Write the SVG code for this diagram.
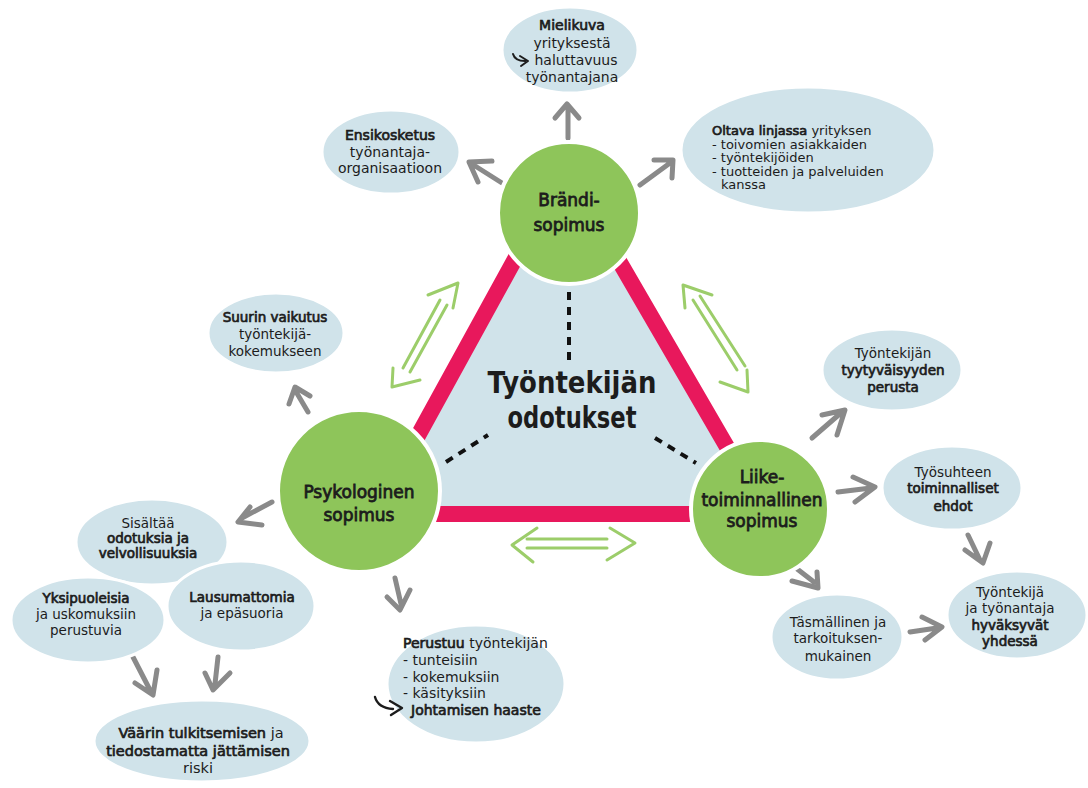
<svg xmlns="http://www.w3.org/2000/svg" width="1088" height="788" viewBox="0 0 1088 788">
<style>
.t{font-family:"DejaVu Sans",Verdana,sans-serif;fill:#1c1c1c;font-size:13.5px}
.m{text-anchor:middle}
.b{stroke:#1c1c1c;stroke-width:0.7px}
.ell{fill:#d0e3ea;stroke:#ffffff;stroke-width:3}
.circ{fill:#8ec55a;stroke:#ffffff;stroke-width:4}
.cl{font-family:"DejaVu Sans",Verdana,sans-serif;fill:#1c1c1c;font-size:17px;text-anchor:middle;stroke:#1c1c1c;stroke-width:0.8px}
.ga{fill:none;stroke:#8a8a8a;stroke-width:5;stroke-linecap:round;stroke-linejoin:round}
.gr{fill:none;stroke:#9ccd6a;stroke-width:3;stroke-linecap:round;stroke-linejoin:round}
.dash{fill:none;stroke:#111;stroke-width:4;stroke-dasharray:8 7}
.sym{fill:none;stroke:#1c1c1c;stroke-width:2;stroke-linecap:round;stroke-linejoin:round}
.title{font-family:"DejaVu Sans",Verdana,sans-serif;fill:#1c1c1c;font-size:31px;font-weight:bold;text-anchor:middle}
</style>

<g id="triangle">
<polygon points="565,168 375,514 766,514" fill="#d0e3ea" stroke="#e8185c" stroke-width="16" stroke-linejoin="miter"/>
<path class="dash" d="M569,292 L569,362"/>
<path class="dash" d="M446,462 L488,435"/>
<path class="dash" d="M655,438 L696,463"/>
<text class="title" x="572" y="393" textLength="169" lengthAdjust="spacingAndGlyphs">Työntekijän</text>
<text class="title" x="572" y="428" textLength="129" lengthAdjust="spacingAndGlyphs">odotukset</text>
</g>

<g id="connectors">
<path class="ga" d="M568,138 L568,106 M555,118 L567,104 L579,118"/>
<path class="ga" d="M502,183 L472,164 M492,161 L469,162 L478,182"/>
<path class="ga" d="M640,185 L670,163 M654,160 L673,160 L672,178"/>
<path class="ga" d="M308,412 L295,390 M289,404 L295,387 L310,396"/>
<path class="ga" d="M272,502 L242,518 M250,507 L238,522 L262,525"/>
<path class="ga" d="M395,578 L401,604 M387,597 L400,610 L410,590"/>
<path class="ga" d="M133,657 L150,690 M135,683 L153,695 L157,670"/>
<path class="ga" d="M218,657 L215,684 M205,673 L213,690 L230,673"/>
<path class="ga" d="M812,438 L842,412 M822,415 L845,410 L837,435"/>
<path class="ga" d="M838,492 L871,488 M853,477 L875,487 L855,502"/>
<path class="ga" d="M968,535 L980,560 M965,550 L983,563 L990,543"/>
<path class="ga" d="M792,565 L814,582 M792,581 L818,588 L817,572"/>
<path class="ga" d="M910,632 L937,628 M922,617 L942,627 L925,640"/>
<path class="gr" d="M403,368 L440,300 M410,372 L447,305 M428,295 L458,283 L453,308 M393,368 L392,387 L420,380"/>
<path class="gr" d="M693,300 L737,370 M700,296 L745,366 M712,295 L683,285 L685,308 M747,370 L748,392 L720,382"/>
<path class="gr" d="M527,539 L607,539 M527,548 L607,548 M537,528 L512,545 L533,562 M610,528 L635,543 L607,560"/>
</g>

<g id="brandi">
<circle class="circ" cx="569" cy="213" r="71"/>
<text class="cl" x="569" y="206">Brändi-</text>
<text class="cl" x="569" y="231">sopimus</text>
</g>

<g id="psykologinen">
<circle class="circ" cx="359" cy="491" r="81"/>
<text class="cl" x="359" y="498">Psykologinen</text>
<text class="cl" x="359" y="521">sopimus</text>
</g>

<g id="liiketoiminnallinen">
<circle class="circ" cx="760" cy="509" r="69"/>
<text class="cl" x="762" y="483">Liike-</text>
<text class="cl" x="762" y="506">toiminnallinen</text>
<text class="cl" x="762" y="527">sopimus</text>
</g>

<g id="mielikuva">
<ellipse class="ell" cx="570" cy="50" rx="68" ry="43"/>
<text class="t m" x="572" y="30" style="font-size:14px"><tspan class="b">Mielikuva</tspan></text>
<text class="t m" x="572" y="48" style="font-size:14px">yrityksestä</text>
<text class="t m" x="576" y="65" style="font-size:14px">haluttavuus</text>
<text class="t m" x="572" y="82" style="font-size:14px">työnantajana</text>
<path class="sym" d="M513,54 Q515,61 525,61 M520,56 L528,61 L521,66"/>
</g>

<g id="ensikosketus">
<ellipse class="ell" cx="391" cy="152" rx="69" ry="42"/>
<text class="t m" x="390" y="140" style="font-size:14px"><tspan class="b">Ensikosketus</tspan></text>
<text class="t m" x="390" y="157" style="font-size:14px">työnantaja-</text>
<text class="t m" x="390" y="173" style="font-size:14px">organisaatioon</text>
</g>

<g id="oltava">
<ellipse class="ell" cx="808" cy="150" rx="127" ry="63"/>
<text class="t" x="712" y="135" style="font-size:13px"><tspan class="b">Oltava linjassa</tspan> yrityksen</text>
<text class="t" x="712" y="148.5" style="font-size:13px">- toivomien asiakkaiden</text>
<text class="t" x="712" y="162" style="font-size:13px">- työntekijöiden</text>
<text class="t" x="712" y="175.5" style="font-size:13px">- tuotteiden ja palveluiden</text>
<text class="t" x="721" y="189" style="font-size:13px">kanssa</text>
</g>

<g id="suurin">
<ellipse class="ell" cx="276" cy="333" rx="68" ry="40"/>
<text class="t m" x="275" y="322"><tspan class="b">Suurin vaikutus</tspan></text>
<text class="t m" x="275" y="339">työntekijä-</text>
<text class="t m" x="275" y="356">kokemukseen</text>
</g>

<g id="sisaltaa">
<ellipse class="ell" cx="152" cy="542" rx="76" ry="43"/>
<text class="t m" x="148" y="528">Sisältää</text>
<text class="t m" x="148" y="543"><tspan class="b">odotuksia ja</tspan></text>
<text class="t m" x="148" y="558"><tspan class="b">velvollisuuksia</tspan></text>
</g>

<g id="yksipuoleisia">
<ellipse class="ell" cx="88" cy="620" rx="77" ry="43"/>
<text class="t m" x="86" y="603"><tspan class="b">Yksipuoleisia</tspan></text>
<text class="t m" x="86" y="619">ja uskomuksiin</text>
<text class="t m" x="86" y="635">perustuvia</text>
</g>

<g id="lausumattomia">
<ellipse class="ell" cx="241" cy="606" rx="74" ry="45"/>
<text class="t m" x="242" y="602"><tspan class="b">Lausumattomia</tspan></text>
<text class="t m" x="242" y="618">ja epäsuoria</text>
</g>

<g id="vaarin">
<ellipse class="ell" cx="202" cy="741" rx="108" ry="41"/>
<text class="t m" x="201" y="738" style="font-size:14.5px"><tspan class="b">Väärin tulkitsemisen</tspan> ja</text>
<text class="t m" x="198" y="755.5" style="font-size:14.5px"><tspan class="b">tiedostamatta jättämisen</tspan></text>
<text class="t m" x="198" y="773" style="font-size:14.5px">riski</text>
</g>

<g id="perustuu">
<ellipse class="ell" cx="476" cy="684" rx="89" ry="59"/>
<text class="t" x="403" y="648" style="font-size:14px"><tspan class="b">Perustuu</tspan> työntekijän</text>
<text class="t" x="403" y="665" style="font-size:14px">- tunteisiin</text>
<text class="t" x="403" y="682" style="font-size:14px">- kokemuksiin</text>
<text class="t" x="403" y="698" style="font-size:14px">- käsityksiin</text>
<text class="t" x="411" y="715" style="font-size:14px"><tspan class="b">Johtamisen haaste</tspan></text>
<path class="sym" d="M375,697 Q378,708 393,709 M390,701 L402,708 L391,715" style="stroke-width:2.4"/>
</g>

<g id="tyytyvaisyys">
<ellipse class="ell" cx="892" cy="370" rx="70" ry="41"/>
<text class="t m" x="893" y="358">Työntekijän</text>
<text class="t m" x="893" y="375"><tspan class="b">tyytyväisyyden</tspan></text>
<text class="t m" x="893" y="392"><tspan class="b">perusta</tspan></text>
</g>

<g id="tyosuhteen">
<ellipse class="ell" cx="952" cy="488" rx="70" ry="42"/>
<text class="t m" x="953" y="477">Työsuhteen</text>
<text class="t m" x="953" y="493"><tspan class="b">toiminnalliset</tspan></text>
<text class="t m" x="953" y="511"><tspan class="b">ehdot</tspan></text>
</g>

<g id="hyvaksyvat">
<ellipse class="ell" cx="1017" cy="615" rx="70" ry="44"/>
<text class="t m" x="1010" y="597">Työntekijä</text>
<text class="t m" x="1010" y="613">ja työnantaja</text>
<text class="t m" x="1010" y="630"><tspan class="b">hyväksyvät</tspan></text>
<text class="t m" x="1010" y="646"><tspan class="b">yhdessä</tspan></text>
</g>

<g id="tasmallinen">
<ellipse class="ell" cx="837" cy="637" rx="66" ry="43"/>
<text class="t m" x="838" y="627">Täsmällinen ja</text>
<text class="t m" x="838" y="643">tarkoituksen-</text>
<text class="t m" x="838" y="661">mukainen</text>
</g>
</svg>
